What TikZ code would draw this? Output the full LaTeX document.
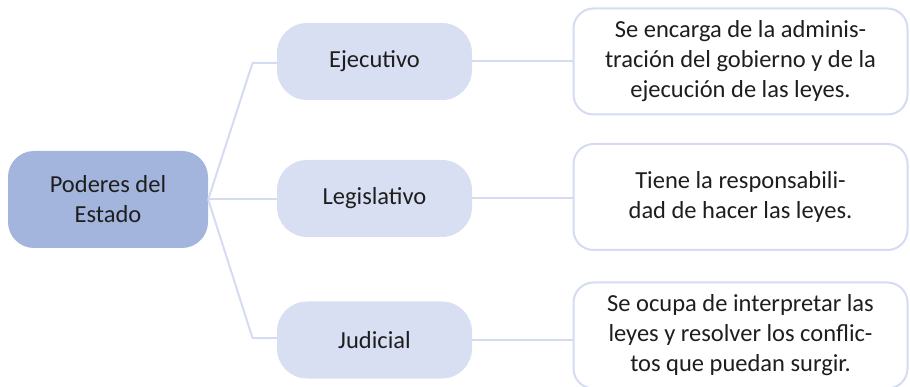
\documentclass[tikz,border=0pt]{standalone}
\usepackage{fontspec}
\setmainfont{Carlito}
\definecolor{rootblue}{HTML}{A3B5DD}
\definecolor{branchblue}{HTML}{D9DFF3}
\definecolor{linkblue}{HTML}{D5DCF2}
\definecolor{inkgray}{HTML}{1E1E1E}

\begin{document}
\begin{tikzpicture}[
  x=1pt,
  y=-1pt,
  line join=round,
  font=\fontsize{24.5}{30}\selectfont,
  text=inkgray,
  rootbox/.style={fill=rootblue,rounded corners=26pt,minimum width=200pt,minimum height=97pt,align=center,inner sep=0pt},
  branchbox/.style={fill=branchblue,rounded corners=30pt,minimum width=195pt,minimum height=77pt,inner sep=0pt},
  descbox/.style={draw=linkblue,fill=white,line width=2pt,rounded corners=20pt,minimum width=334pt,minimum height=106pt,align=center,inner sep=0pt},
  link/.style={draw=linkblue,line width=2pt}
]
  % Match the artwork frame.
  \useasboundingbox (0,0) rectangle (910,387);

  % Central node and the three powers.
  \node[rootbox] (poderes) at (108,199.5) {Poderes del\\Estado};
  \node[branchbox] (ejecutivo) at (374.5,61.5) {Ejecutivo};
  \node[branchbox] (legislativo) at (374.5,198.5) {Legislativo};
  \node[branchbox] (judicial) at (374.5,340) {Judicial};

  % Descriptions on the right.
  \node[descbox] (descE) at (740.5,61.5) {Se encarga de la adminis-\\tración del gobierno y de la\\ejecución de las leyes.};
  \node[descbox] (descL) at (740.5,197) {Tiene la responsabili-\\dad de hacer las leyes.};
  \node[descbox] (descJ) at (740.5,335.5) {Se ocupa de interpretar las\\leyes y resolver los conflic-\\tos que puedan surgir.};

  % Bends of the branching connectors.
  \coordinate (bendE) at (252.5,63);
  \coordinate (bendJ) at (252.5,338);

  % Connectors between the boxes.
  \draw[link] (poderes.east) -- (bendE) -- (bendE -| ejecutivo.west);
  \draw[link] (poderes.east) -- (poderes.east -| legislativo.west);
  \draw[link] (poderes.east) -- (bendJ) -- (bendJ -| judicial.west);
  \draw[link] (ejecutivo.east) -- (ejecutivo.east -| descE.west);
  \draw[link] (legislativo.east) -- (legislativo.east -| descL.west);
  \draw[link] (judicial.east) -- (judicial.east -| descJ.west);
\end{tikzpicture}
\end{document}
